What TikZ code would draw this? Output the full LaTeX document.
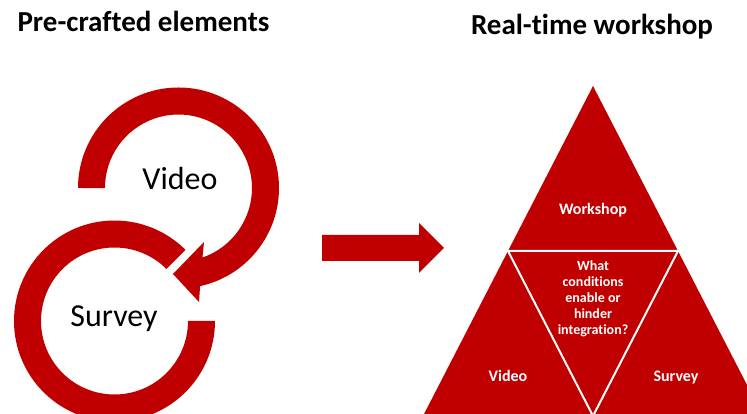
\documentclass[tikz,border=0pt]{standalone}
\usepackage{fontspec}
\usetikzlibrary{calc}
\setmainfont[Ligatures={NoCommon}]{Carlito}
\definecolor{dred}{RGB}{192,0,0}
\begin{document}
\begin{tikzpicture}[x=1pt,y=1pt,
  redfill/.style={fill=dred,draw=none},
  sep/.style={draw=white,line width=2pt,line join=round},
  title/.style={font=\fontsize{29}{34}\selectfont\bfseries,anchor=base,inner sep=0pt},
  ringlabel/.style={font=\fontsize{32}{38}\selectfont,anchor=base,inner sep=0pt},
  trilabel/.style={font=\fontsize{16}{19}\selectfont\bfseries,text=white,anchor=base,inner sep=0pt},
  qlabel/.style={font=\fontsize{14}{16}\selectfont\bfseries,text=white,align=center,inner sep=0pt}]
\useasboundingbox (0,0) rectangle (747,414);
\clip (0,0) rectangle (747,414);
% titles
\node[title] (t1) at (143.5,382) {Pre-crafted elements};
\node[title] (t2) at (592,379) {Real-time workshop};
% upper ring with arrowhead (Video)
\coordinate (vc) at (178.5,226);
\fill[redfill] (78,226) arc[start angle=180,end angle=-77.6,radius=100.5]
  -- (199,112) -- (173,140) -- (204,172) -- (202.5,156.5)
  arc[start angle=-70.9,end angle=180,radius=73.5] -- cycle;
% lower ring (Survey)
\fill[redfill] (215,93) arc[start angle=0,end angle=-315,radius=100.5]
  -- ($(114.5,93)+(45:73.5)$) arc[start angle=45,end angle=360,radius=73.5] -- cycle;
\node[ringlabel] (lv) at (180,224) {Video};
\node[ringlabel] (ls) at (114,87) {Survey};
% right arrow
\fill[redfill] (322,153) -- (419,153) -- (419,141) -- (444,166) -- (419,191) -- (419,179) -- (322,179) -- cycle;
% triangle
\coordinate (apex) at (593,328);
\coordinate (bl) at (423,-2);
\coordinate (br) at (763,-2);
\coordinate (ml) at (508,163);
\coordinate (mr) at (678,163);
\coordinate (mb) at (593,-2);
\fill[redfill] (apex) -- (bl) -- (br) -- cycle;
\draw[sep] (mb) -- (ml) -- (mr) -- cycle;
\node[trilabel] (tw) at (593,199.5) {Workshop};
\node[trilabel] (tv) at (508,32.5) {Video};
\node[trilabel] (ts) at (676,32.5) {Survey};
\node[qlabel] (tq) at (593,115) {What\\conditions\\enable or\\hinder\\integration?};
\end{tikzpicture}
\end{document}
